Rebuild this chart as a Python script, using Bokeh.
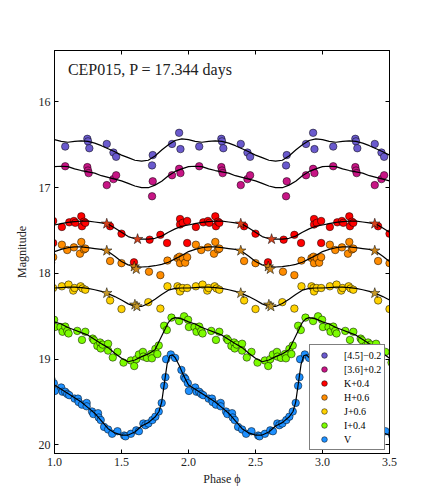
from bokeh.plotting import figure
from bokeh.models import (Range1d, FixedTicker, NumeralTickFormatter, LinearAxis,
                          Legend, LegendItem, Label)
from bokeh.embed import file_html
from bokeh.resources import INLINE

# ---------------- data (one pulsation cycle, phase 0..1; displayed magnitudes incl. offsets)
x_ticks = [1.0, 1.5, 2.0, 2.5, 3.0, 3.5]
y_ticks = [16, 17, 18, 19, 20]
cycles = [0, 1, 2, 3]

ph_45 = [0.08, 0.245, 0.25, 0.26, 0.39, 0.44, 0.46, 0.728, 0.733, 0.877, 0.93, 0.94]
mag_45 = [16.52, 16.43, 16.46, 16.54, 16.49, 16.59, 16.64, 16.74, 16.62, 16.49, 16.36, 16.55]

ph_36 = [0.08, 0.245, 0.25, 0.255, 0.39, 0.44, 0.46, 0.728, 0.733, 0.877, 0.93, 0.94]
mag_36 = [16.75, 16.76, 16.80, 16.83, 16.97, 16.90, 16.855, 17.10, 16.925, 16.855, 16.78, 16.83]

ph_K = [0.055, 0.11, 0.145, 0.155, 0.20, 0.205, 0.22, 0.23, 0.415, 0.50, 0.593, 0.71,
        0.79, 0.84, 0.937, 0.937, 0.957, 0.99, 0.99]
mag_K = [17.458, 17.404, 17.388, 17.41, 17.334, 17.45, 17.396, 17.41, 17.45, 17.536, 17.87,
         17.606, 17.55, 17.645, 17.365, 17.43, 17.41, 17.388, 17.645]
star_ph_K = [0.39, 0.62]
star_mag_K = [17.42, 17.60]

ph_H = [0.055, 0.095, 0.145, 0.19, 0.20, 0.22, 0.23, 0.415, 0.50, 0.705, 0.79, 0.843,
        0.918, 0.933, 0.937, 0.957, 0.975, 0.99]
mag_H = [17.665, 17.727, 17.696, 17.77, 17.633, 17.72, 17.71, 17.855, 17.88, 17.98, 18.02,
         17.85, 17.82, 17.805, 17.88, 17.82, 17.875, 17.81]
star_ph_H = [0.39, 0.595, 0.61]
star_mag_H = [17.735, 17.92, 17.95]

ph_J = [0.055, 0.105, 0.14, 0.15, 0.195, 0.21, 0.23, 0.415, 0.50, 0.70, 0.79, 0.843,
        0.918, 0.933, 0.937, 0.957, 0.99]
mag_J = [18.15, 18.13, 18.20, 18.17, 18.15, 18.175, 18.19, 18.315, 18.415, 18.335, 18.41,
         18.15, 18.15, 18.17, 18.21, 18.17, 18.17]
star_ph_J = [0.39, 0.60, 0.615]
star_mag_J = [18.23, 18.365, 18.385]

ph_I = [0.003, 0.045, 0.06, 0.08, 0.095, 0.105, 0.17, 0.205, 0.23, 0.285, 0.295, 0.32,
        0.34, 0.345, 0.36, 0.40, 0.40, 0.435, 0.47, 0.515, 0.57, 0.595, 0.61, 0.63, 0.66,
        0.663, 0.69, 0.72, 0.727, 0.753, 0.768, 0.778, 0.818, 0.838, 0.873, 0.93, 0.967, 0.997]
mag_I = [18.625, 18.626, 18.68, 18.62, 18.67, 18.70, 18.67, 18.775, 18.68, 18.76, 18.78,
         18.845, 18.805, 18.875, 18.83, 18.82, 18.90, 18.98, 18.915, 19.04, 19.015, 19.08,
         19.00, 18.945, 18.915, 18.97, 18.985, 18.94, 18.99, 18.88, 18.94, 18.84, 18.61,
         18.66, 18.515, 18.555, 18.50, 18.54]

ph_V = [0.003, 0.05, 0.06, 0.08, 0.095, 0.11, 0.15, 0.175, 0.18, 0.205, 0.24, 0.24, 0.28,
        0.29, 0.325, 0.33, 0.345, 0.37, 0.40, 0.43, 0.47, 0.52, 0.53, 0.57, 0.61, 0.63,
        0.663, 0.678, 0.70, 0.73, 0.753, 0.778, 0.80, 0.818, 0.828, 0.833, 0.868, 0.90,
        0.947, 0.967, 0.977, 0.995]
mag_V = [19.37, 19.33, 19.38, 19.38, 19.405, 19.42, 19.46, 19.46, 19.50, 19.53, 19.51,
         19.55, 19.61, 19.64, 19.63, 19.68, 19.71, 19.79, 19.82, 19.87, 19.84, 19.89, 19.90,
         19.87, 19.83, 19.84, 19.75, 19.77, 19.75, 19.71, 19.67, 19.61, 19.51, 19.31, 19.21,
         19.00, 18.945, 18.985, 19.125, 19.21, 19.23, 19.28]

# template curves
cph = [0.00, 0.05, 0.10, 0.15, 0.20, 0.25, 0.30, 0.35, 0.40, 0.45, 0.50,
       0.55, 0.60, 0.65, 0.70, 0.75, 0.80, 0.85, 0.90, 0.95, 1.00]
curve_45 = [16.44, 16.46, 16.47, 16.46, 16.455, 16.46, 16.48, 16.51, 16.545, 16.58, 16.62,
            16.65, 16.68, 16.69, 16.68, 16.63, 16.56, 16.50, 16.45, 16.43, 16.44]
curve_36 = [16.755, 16.75, 16.755, 16.78, 16.80, 16.815, 16.83, 16.86, 16.88, 16.90, 16.92,
            16.95, 16.98, 17.00, 17.00, 16.97, 16.925, 16.86, 16.81, 16.78, 16.755]
curve_K = [17.435, 17.42, 17.405, 17.395, 17.39, 17.39, 17.40, 17.41, 17.425, 17.47, 17.52,
           17.57, 17.595, 17.60, 17.60, 17.59, 17.565, 17.52, 17.48, 17.45, 17.435]
curve_H = [17.745, 17.72, 17.70, 17.69, 17.69, 17.70, 17.71, 17.72, 17.745, 17.80, 17.86,
           17.90, 17.92, 17.925, 17.92, 17.91, 17.895, 17.87, 17.83, 17.79, 17.745]
curve_J = [18.17, 18.165, 18.16, 18.16, 18.165, 18.175, 18.19, 18.21, 18.235, 18.27, 18.31,
           18.355, 18.385, 18.385, 18.35, 18.30, 18.245, 18.195, 18.175, 18.17, 18.17]
cph_I = [0.00, 0.05, 0.10, 0.15, 0.20, 0.25, 0.30, 0.35, 0.40, 0.45, 0.50, 0.55, 0.60,
         0.65, 0.70, 0.75, 0.80, 0.85, 0.875, 0.90, 0.95, 1.00]
curve_I = [18.565, 18.59, 18.63, 18.66, 18.69, 18.72, 18.77, 18.82, 18.865, 18.93, 18.99,
           19.03, 19.01, 18.97, 18.94, 18.89, 18.73, 18.57, 18.53, 18.515, 18.53, 18.565]
cph_V = [0.00, 0.05, 0.10, 0.15, 0.20, 0.25, 0.30, 0.35, 0.40, 0.45, 0.50, 0.55, 0.60,
         0.65, 0.70, 0.75, 0.78, 0.80, 0.82, 0.84, 0.86, 0.88, 0.90, 0.93, 0.96, 1.00]
curve_V = [19.30, 19.35, 19.40, 19.45, 19.50, 19.565, 19.63, 19.72, 19.81, 19.86, 19.885,
           19.885, 19.85, 19.78, 19.74, 19.675, 19.61, 19.50, 19.28, 19.06, 18.96, 18.95,
           18.98, 19.07, 19.18, 19.30]

labels = ["[4.5]\u22120.2", "[3.6]+0.2", "K+0.4", "H+0.6", "J+0.6", "I+0.4", "V"]
colors = ["#6A5ACD", "#C71585", "#FF0000", "#FF8C00", "#FFD200", "#7CFC00", "#1E90FF"]
star_colors = {"K": "#D8401A", "H": "#CF8518", "J": "#C79A28"}


def tile(ph, mg):
    xs, ys = [], []
    for k in cycles:
        xs += [p + k for p in ph]
        ys += list(mg)
    return xs, ys


FONT = "Liberation Serif"
p = figure(width=424, height=488, x_range=Range1d(1.0, 3.5), y_range=Range1d(20.1, 15.4),
           output_backend="svg", toolbar_location=None,
           min_border_left=54, min_border_right=35, min_border_top=50, min_border_bottom=35)
p.xgrid.grid_line_color = None
p.ygrid.grid_line_color = None
p.outline_line_color = "black"
p.outline_line_width = 1
p.background_fill_color = "white"
p.border_fill_color = "white"

points = [(ph_45, mag_45), (ph_36, mag_36), (ph_K, mag_K), (ph_H, mag_H),
          (ph_J, mag_J), (ph_I, mag_I), (ph_V, mag_V)]
curves = [(cph, curve_45), (cph, curve_36), (cph, curve_K), (cph, curve_H),
          (cph, curve_J), (cph_I, curve_I), (cph_V, curve_V)]

renderers = []
for (ph, mg), c in zip(points, colors):
    xs, ys = tile(ph, mg)
    r = p.scatter(xs, ys, size=7.5, fill_color=c, line_color="black", line_width=0.5)
    renderers.append(r)

for ph, mg in curves:
    xs, ys = tile(ph, mg)
    p.line(xs, ys, line_color="black", line_width=1.2)

for band, sph, smg in [("K", star_ph_K, star_mag_K), ("H", star_ph_H, star_mag_H),
                       ("J", star_ph_J, star_mag_J)]:
    xs, ys = tile(sph, smg)
    p.scatter(xs, ys, marker="star", size=11, fill_color=star_colors[band],
              line_color="black", line_width=0.5)

# axes
for ax in [p.xaxis[0], p.yaxis[0]]:
    ax.major_tick_in = 4
    ax.major_tick_out = 0
    ax.minor_tick_line_color = None
    ax.axis_line_color = "black"
    ax.major_tick_line_color = "black"
    ax.major_label_text_font = FONT
    ax.major_label_text_font_size = "12px"
    ax.major_label_text_color = "#222222"
    ax.axis_label_text_font = FONT
    ax.axis_label_text_font_size = "12px"
    ax.axis_label_text_font_style = "normal"
    ax.axis_label_text_color = "#222222"

p.xaxis[0].ticker = FixedTicker(ticks=x_ticks)
p.xaxis[0].formatter = NumeralTickFormatter(format="0.0")
p.xaxis[0].axis_label = "Phase \u03d5"
p.xaxis[0].major_label_standoff = 4
p.xaxis[0].axis_label_standoff = 3
p.yaxis[0].ticker = FixedTicker(ticks=y_ticks)
p.yaxis[0].axis_label = "Magnitude"
p.yaxis[0].major_label_standoff = 4
p.yaxis[0].axis_label_standoff = 7

top = LinearAxis(ticker=FixedTicker(ticks=x_ticks),
                 major_label_overrides={t: "" for t in x_ticks})
right = LinearAxis(ticker=FixedTicker(ticks=y_ticks),
                   major_label_overrides={t: "" for t in y_ticks})
for ax in [top, right]:
    ax.major_tick_in = 4
    ax.major_tick_out = 0
    ax.minor_tick_line_color = None
    ax.axis_line_color = "black"
    ax.major_label_standoff = 0
p.add_layout(top, "above")
p.add_layout(right, "right")

p.add_layout(Label(x=1.1, y=15.62, text="CEP015, P = 17.344 days", text_font=FONT,
                   text_font_size="16px", text_baseline="alphabetic", text_color="#222222"))

legend = Legend(items=[LegendItem(label=l, renderers=[r]) for l, r in zip(labels, renderers)],
                location=(255, 3))
legend.border_line_color = "black"
legend.border_line_width = 1
legend.background_fill_alpha = 1.0
legend.label_text_font = FONT
legend.label_text_font_size = "10px"
legend.label_text_color = "black"
legend.glyph_width = 22
legend.glyph_height = 14
legend.label_height = 14
legend.spacing = 0
legend.padding = 3
legend.label_standoff = 9
legend.margin = 0
p.add_layout(legend)

open("out.html", "w").write(file_html(p, INLINE))
